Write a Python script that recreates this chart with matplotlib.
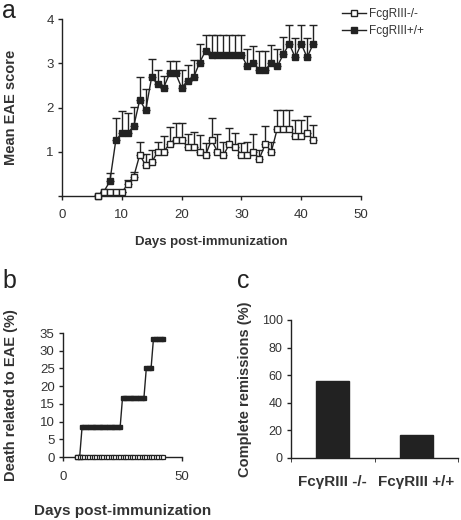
import numpy as np
import matplotlib
matplotlib.use("Agg")
import matplotlib.pyplot as plt

plt.rcParams['font.family'] = ['Liberation Sans', 'DejaVu Sans']

# panel a: mean EAE score per day
days = list(range(6, 43))
ko_mean = [0, 0.08, 0.08, 0.08, 0.08, 0.27, 0.44, 0.93, 0.69, 0.76, 1.0, 1.0,
           1.18, 1.27, 1.27, 1.11, 1.11, 1.0, 0.92, 1.27, 1.0, 0.92, 1.18, 1.11,
           0.92, 0.92, 1.0, 0.84, 1.18, 1.0, 1.52, 1.52, 1.52, 1.35, 1.35, 1.43, 1.27]
ko_top = [0, 0.08, 0.08, 0.08, 0.08, 0.36, 0.55, 1.21, 0.95, 1.03, 1.23, 1.36,
          1.57, 1.65, 1.65, 1.40, 1.45, 1.38, 1.20, 1.77, 1.40, 1.23, 1.54, 1.43,
          1.19, 1.23, 1.40, 1.05, 1.58, 1.23, 1.94, 1.94, 1.94, 1.72, 1.72, 1.81, 1.61]
wt_mean = [0, 0.1, 0.33, 1.26, 1.42, 1.42, 1.58, 2.17, 1.94, 2.69, 2.52, 2.45,
           2.77, 2.77, 2.45, 2.60, 2.68, 3.01, 3.28, 3.19, 3.19, 3.19, 3.19, 3.19,
           3.19, 2.93, 3.01, 2.85, 2.85, 3.01, 2.93, 3.20, 3.44, 3.13, 3.44, 3.13, 3.44]
wt_top = [0, 0.1, 0.51, 1.76, 1.91, 1.88, 2.02, 2.70, 2.41, 3.10, 2.85, 2.71,
          3.06, 3.06, 2.85, 2.96, 3.07, 3.43, 3.63, 3.63, 3.63, 3.63, 3.63, 3.63,
          3.63, 3.33, 3.39, 3.28, 3.28, 3.41, 3.33, 3.60, 3.87, 3.56, 3.87, 3.56, 3.87]

# panel b: death related to EAE (%)
ko_death = [0] * len(days)
wt_death = [0, 0] + [8.33] * 17 + [16.67] * 10 + [25] * 3 + [33.33] * 5

# panel c: complete remissions (%)
groups = ['Fc\u03b3RIII -/-', 'Fc\u03b3RIII +/+']
remission = [56, 17]

W, H = 461, 520
dark = '#222222'
txt = '#333333'
fig = plt.figure(figsize=(W / 100, H / 100), dpi=100)


def rect(l, t, r, b):
    return [l / W, 1 - b / H, (r - l) / W, (b - t) / H]


def style(ax, size=9.5):
    for s in ['top', 'right']:
        ax.spines[s].set_visible(False)
    for s in ['left', 'bottom']:
        ax.spines[s].set_color(dark)
        ax.spines[s].set_linewidth(1.0)
    ax.tick_params(direction='out', length=3, width=1, color=dark,
                   labelsize=size, labelcolor=txt, pad=3)


# ---- panel a
ax = fig.add_axes(rect(62, 19, 361, 196))
style(ax)
ko_err = np.array(ko_top) - np.array(ko_mean)
wt_err = np.array(wt_top) - np.array(wt_mean)
ax.errorbar(days, ko_mean, yerr=[np.zeros(len(days)), ko_err], fmt='none',
            ecolor=dark, elinewidth=1, capsize=3, capthick=1, zorder=2)
ax.errorbar(days, wt_mean, yerr=[np.zeros(len(days)), wt_err], fmt='none',
            ecolor=dark, elinewidth=1, capsize=3, capthick=1, zorder=2)
ax.plot(days, ko_mean, color=dark, lw=1, marker='s', ms=4, mfc='white',
        mec=dark, mew=1, label='FcgRIII-/-', clip_on=False, zorder=4)
ax.plot(days, wt_mean, color=dark, lw=1, marker='s', ms=4, mfc=dark,
        mec=dark, label='FcgRIII+/+', clip_on=False, zorder=3)
ax.set_xlim(0, 50)
ax.set_ylim(0, 4)
ax.set_xticks([0, 10, 20, 30, 40, 50])
ax.set_yticks([0, 1, 2, 3, 4])
ax.set_yticklabels(['', '1', '2', '3', '4'])
ax.tick_params(axis='x', pad=6)
ax.set_xlabel('Days post-immunization', fontsize=9.5, fontweight='bold',
              color=txt, labelpad=11)
ax.set_ylabel('Mean EAE score', fontsize=10.5, fontweight='bold',
              color=txt, labelpad=20)
ax.legend(loc='upper left', bbox_to_anchor=(334 / W, 1 - 0 / H),
          bbox_transform=fig.transFigure, frameon=False, fontsize=8.5,
          handlelength=2.0, handletextpad=0.3, labelspacing=0.4,
          labelcolor=txt, borderpad=0.2)
fig.text(2 / W, 1 - 18 / H, 'a', fontsize=18, va='baseline', ha='left',
         color=dark)

# ---- panel b
bx = fig.add_axes(rect(63, 333, 182, 457))
style(bx)
bx.plot(days, wt_death, color=dark, lw=1, marker='s', ms=3.5, mfc=dark,
        mec=dark, clip_on=False, zorder=3)
bx.plot(days, ko_death, color=dark, lw=1, marker='s', ms=3.5, mfc='white',
        mec=dark, mew=0.9, clip_on=False, zorder=4)
bx.set_xlim(0, 50)
bx.set_ylim(0, 35)
bx.set_xticks([0, 50])
bx.set_yticks(range(0, 36, 5))
bx.tick_params(axis='x', pad=7)
bx.set_xlabel('Days post-immunization', fontsize=11, fontweight='bold',
              color=txt, labelpad=15)
bx.set_ylabel('Death related to EAE (%)', fontsize=10.5, fontweight='bold',
              color=txt, labelpad=16)
fig.text(2 / W, 1 - 288 / H, 'b', fontsize=18, va='baseline', ha='left',
         color=dark)

# ---- panel c
cx = fig.add_axes(rect(291, 320, 458, 458))
style(cx, 9)
pos = np.arange(len(groups)) + 0.5
cx.bar(pos, remission, width=0.4, color=dark, edgecolor=dark)
cx.set_xlim(0, 2)
cx.set_ylim(0, 100)
cx.set_yticks(range(0, 101, 20))
cx.set_xticks(pos)
cx.set_xticklabels(groups, fontsize=11, fontweight='bold', color=txt)
cx.set_xticks([0, 1, 2], minor=True)
cx.tick_params(axis='x', which='major', length=0, pad=12)
cx.tick_params(axis='x', which='minor', length=3, color=dark)
cx.set_ylabel('Complete remissions (%)', fontsize=10.5, fontweight='bold',
              color=txt, labelpad=7)
fig.text(237 / W, 1 - 288 / H, 'c', fontsize=18, va='baseline', ha='left',
         color=dark)

fig.savefig('out.png', dpi=100)
